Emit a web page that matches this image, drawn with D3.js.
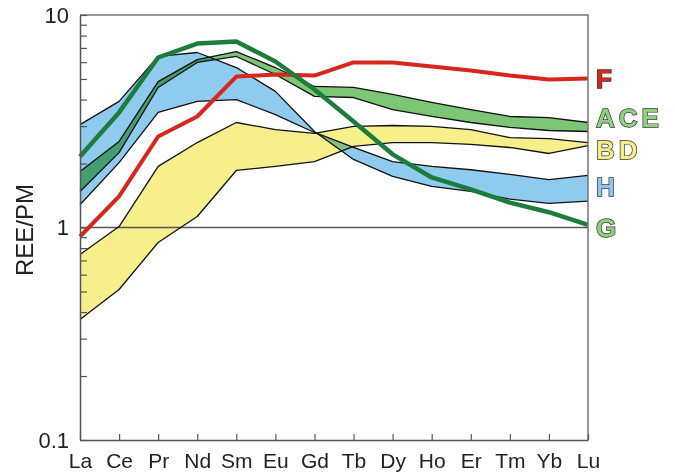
<!DOCTYPE html>
<html><head><meta charset="utf-8">
<script src="https://cdn.jsdelivr.net/npm/d3@7"></script>
<style>
html,body{margin:0;padding:0;background:#fff;}
svg{display:block;font-family:"Liberation Sans",Arial,sans-serif;}
</style></head>
<body>
<svg id="chart" width="675" height="475"></svg>
<script>
const elements = ["La","Ce","Pr","Nd","Sm","Eu","Gd","Tb","Dy","Ho","Er","Tm","Yb","Lu"];
const yTicks = [0.1,1,10];
// Band H (blue): two crossing boundaries
const H_a = [3.05,3.92,6.38,6.66,5.66,4.37,2.83,2.09,1.74,1.56,1.48,1.36,1.30,1.33];
const H_b = [1.28,2.02,3.48,3.92,4.00,3.40,2.80,2.38,2.04,1.94,1.87,1.78,1.68,1.76];
// Band B D (yellow)
const BD_up = [0.746,1.01,1.94,2.51,3.12,2.89,2.77,2.99,3.02,2.99,2.89,2.65,2.62,2.51];
const BD_lo = [0.369,0.511,0.850,1.127,1.855,1.94,2.04,2.41,2.51,2.51,2.46,2.38,2.23,2.43];
// Band A C E (green)
const ACE_up = [1.835,2.54,4.86,6.17,6.73,5.66,4.61,4.56,4.23,3.88,3.59,3.33,3.29,3.12];
const ACE_lo = [1.477,2.25,4.56,5.98,6.38,5.25,4.14,4.09,3.59,3.33,3.12,2.96,2.86,2.83];
// Line F (red)
const F = [0.907,1.40,2.68,3.33,5.13,5.25,5.19,5.98,5.98,5.72,5.48,5.19,4.97,5.02];
// Line G (dark green)
const G = [2.16,3.48,6.31,7.34,7.50,6.04,4.46,3.15,2.21,1.72,1.51,1.31,1.18,1.03];

const labels = [
  {t:"F", v:5.02, fill:"#d9261c"},
  {t:"ACE", v:3.30, fill:"#8fd07f"},
  {t:"BD", v:2.32, fill:"#f5ee85"},
  {t:"H", v:1.55, fill:"#8cc8ee"},
  {t:"G", v:1.0, fill:"#8fd07f"}
];

const svg = d3.select("#chart");
const x = d3.scalePoint().domain(elements).range([80,588]);
const y = d3.scaleLog().domain([0.1,10]).range([440,15]);

function bandData(up, lo){ return elements.map((e,i)=>({e, u:up[i], l:lo[i]})); }
const area = d3.area().x(d=>x(d.e)).y0(d=>y(d.l)).y1(d=>y(d.u));
const line = d3.line().x(d=>x(d.e)).y(d=>y(d.v));
function lineData(arr){ return elements.map((e,i)=>({e, v:arr[i]})); }

const bands = [
  {up:BD_up, lo:BD_lo, fill:"#f6ef8c"},
  {up:H_a, lo:H_b, fill:"#8ecbef"},
  {up:ACE_up, lo:ACE_lo, fill:"#7cc676"}
];
const gb = svg.append("g");
bands.forEach(b=>{
  gb.append("path").attr("d", area(bandData(b.up,b.lo)))
    .attr("fill", b.fill).style("mix-blend-mode","multiply");
});
// y=1 reference line
svg.append("line").attr("x1",80).attr("x2",588).attr("y1",y(1)).attr("y2",y(1))
  .attr("stroke","#555").attr("stroke-width",1.3);
// band borders
bands.forEach(b=>{
  [b.up,b.lo].forEach(arr=>{
    svg.append("path").attr("d", line(lineData(arr))).attr("fill","none")
      .attr("stroke","#111").attr("stroke-width",1.3).attr("stroke-linejoin","round");
  });
});
svg.append("path").attr("d", line(lineData(F))).attr("fill","none")
  .attr("stroke","#d8261d").attr("stroke-width",4).attr("stroke-linejoin","round");
svg.append("path").attr("d", line(lineData(G))).attr("fill","none")
  .attr("stroke","#1c7c3c").attr("stroke-width",4.5).attr("stroke-linejoin","round");

// frame
svg.append("path").attr("d",`M80,15H588V440`).attr("fill","none").attr("stroke","#777").attr("stroke-width",1.5);

// axes
const xAxis = d3.axisBottom(x).tickSizeInner(-6).tickSizeOuter(0).tickPadding(13);
const gx = svg.append("g").attr("transform","translate(0,440)").call(xAxis);
gx.selectAll("text").attr("font-size",21).attr("fill","#222").attr("font-family","Liberation Sans, Arial, sans-serif");
gx.select(".domain").attr("stroke","#555").attr("stroke-width",1.5);
gx.selectAll(".tick line").attr("stroke","#555").attr("stroke-width",1.2);

const minor = [];
[0.1,1].forEach(d=>{ for(let k=1;k<=9;k++) minor.push(d*k); });
minor.push(10);
const yAxis = d3.axisLeft(y).tickValues(minor).tickSizeInner(-7).tickSizeOuter(0).tickPadding(11)
  .tickFormat(d=> yTicks.some(t=>Math.abs(t-d)<1e-9) ? String(d) : "");
const gy = svg.append("g").attr("transform","translate(80,0)").call(yAxis);
gy.selectAll("text").attr("font-size",22).attr("fill","#222").attr("font-family","Liberation Sans, Arial, sans-serif");
gy.select(".domain").attr("stroke","#555").attr("stroke-width",1.5);
gy.selectAll(".tick line").attr("stroke","#555").attr("stroke-width",1.2);

svg.append("text").attr("transform","translate(33,230) rotate(-90)")
  .attr("text-anchor","middle").attr("font-size",24).attr("fill","#222").text("REE/PM");

// right labels
labels.forEach(l=>{
  svg.append("text").attr("x",596).attr("y",y(l.v)).attr("dy","0.36em")
    .attr("font-size",26).attr("font-weight","bold").attr("letter-spacing",4)
    .attr("fill",l.fill).attr("stroke","#333").attr("stroke-width",1.4)
    .style("paint-order","stroke").text(l.t);
});
</script>
</body></html>
